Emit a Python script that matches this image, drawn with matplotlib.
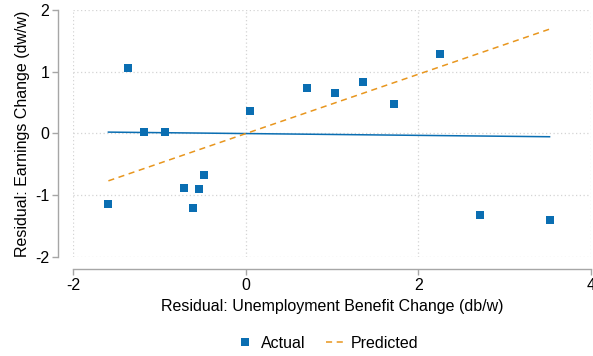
import matplotlib
matplotlib.use("Agg")
import matplotlib.pyplot as plt
from matplotlib.lines import Line2D

plt.rcParams['font.family'] = ['Liberation Sans', 'DejaVu Sans']

# Data
actual_x = [-1.59, -1.36, -1.18, -0.94, -0.71, -0.545, -0.48, -0.61,
            0.046, 0.707, 1.03, 1.36, 1.715, 2.256, 2.71, 3.52]
actual_y = [-1.14, 1.06, 0.02, 0.02, -0.88, -0.90, -0.68, -1.21,
            0.37, 0.74, 0.66, 0.84, 0.475, 1.29, -1.32, -1.40]

fit_x = [-1.59, 3.52]
fit_actual_y = [0.02, -0.055]
predicted_y = [-0.77, 1.69]

xticks = [-2, 0, 2, 4]
yticks = [-2, -1, 0, 1, 2]

blue = '#0a6eb2'
orange = '#e8961e'
gray = '#a6a6a6'

fig = plt.figure(figsize=(5.93, 3.56), dpi=100)
ax = fig.add_axes([73/593, 1 - 256.7/356, (591 - 73)/593, 246.7/356])

ax.set_xlim(-2, 4)
ax.set_ylim(-2, 2)
ax.set_xticks(xticks)
ax.set_yticks(yticks)
ax.set_xticklabels([str(t) for t in xticks])
ax.set_yticklabels([str(t) for t in yticks])

ax.grid(True, color='#d4d4d4', linestyle=(0, (1, 2)), linewidth=0.9)
ax.set_axisbelow(True)

ax.plot(fit_x, fit_actual_y, color=blue, lw=1.1, zorder=2)
ax.plot(fit_x, predicted_y, color=orange, lw=1.1, linestyle=(0, (4, 3)), zorder=2)
ax.plot(actual_x, actual_y, linestyle='none', marker='s', markersize=6.0,
        color=blue, markeredgewidth=0, zorder=3)

for s in ['top', 'right']:
    ax.spines[s].set_visible(False)
ax.spines['left'].set_position(('outward', 11))
ax.spines['bottom'].set_position(('outward', 9))
for s in ['left', 'bottom']:
    ax.spines[s].set_color(gray)
    ax.spines[s].set_linewidth(1.0)
ax.tick_params(axis='both', colors=gray, length=4, width=1.0, labelcolor='black',
               labelsize=11.5, pad=2)

ax.set_xlabel('Residual: Unemployment Benefit Change (db/w)', fontsize=11.5, labelpad=5)
ax.set_ylabel('Residual: Earnings Change (dw/w)', fontsize=11.5, labelpad=4)

handles = [Line2D([], [], linestyle='none', marker='s', markersize=6.0,
                  color=blue, markeredgewidth=0),
           Line2D([], [], color=orange, lw=1.1, linestyle=(0, (4, 3)))]
fig.legend(handles, ['Actual', 'Predicted'], loc='center',
           bbox_to_anchor=(327/593, 1 - 343/356), ncol=2, frameon=False,
           fontsize=11.5, handlelength=1.1, columnspacing=1.3, handletextpad=0.45)

fig.savefig('out.png', dpi=100)
